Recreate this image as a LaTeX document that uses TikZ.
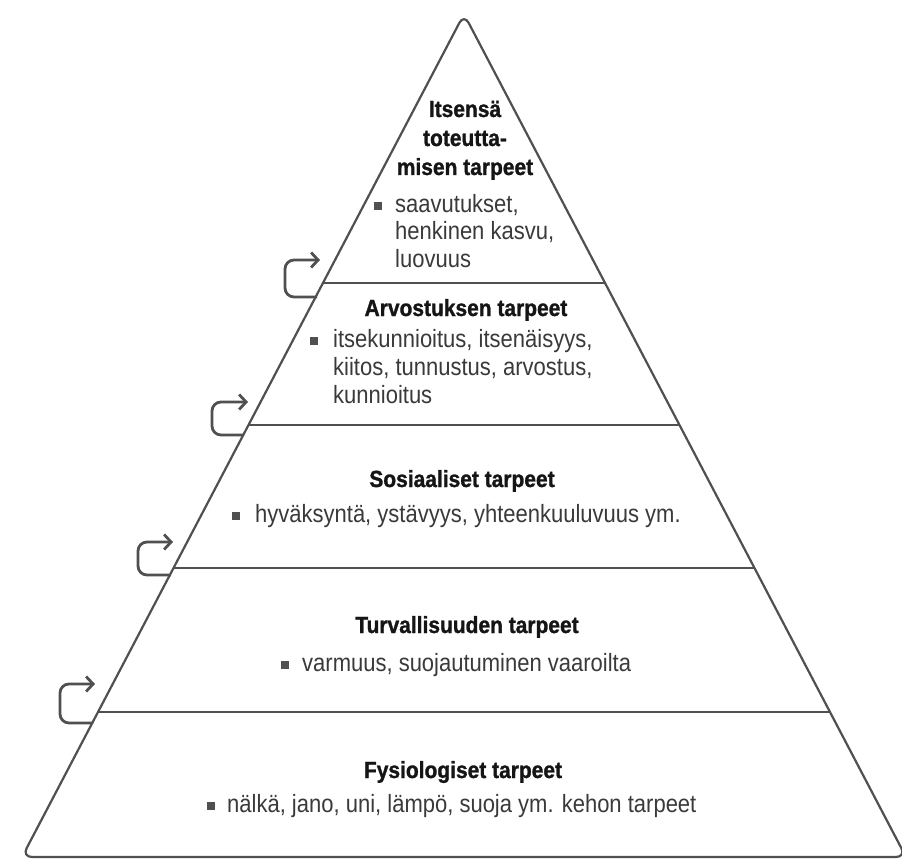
\documentclass[tikz,border=0pt]{standalone}
\usepackage{fontspec}
\setmainfont{Liberation Sans}
\newfontfamily\bodyfont[FakeStretch=0.88]{Liberation Sans}
\newfontfamily\titlefont[FakeStretch=0.9,FakeBold=1.2]{Liberation Sans Bold}
\usetikzlibrary{arrows.meta}
\definecolor{edgec}{HTML}{505050}
\definecolor{txtc}{HTML}{3A3A3A}
\definecolor{ttlc}{HTML}{151515}
\begin{document}
\begin{tikzpicture}[x=1pt,y=-1pt,
  pyr/.style={draw=edgec,line width=2.2pt},
  looparrow/.style={draw=edgec,line width=2.8pt,rounded corners=9pt,-{Straight Barb[length=7pt,width=15pt]}},
  titletext/.style={font=\titlefont\fontsize{23.3}{23}\selectfont, text=ttlc, inner sep=0pt, anchor=base},
  bodytext/.style={font=\bodyfont\fontsize{25}{25}\selectfont, text=txtc, inner sep=0pt, anchor=base west},
  bulletsq/.style={fill=edgec, minimum size=8pt, inner sep=0pt}]
\useasboundingbox (0,0) rectangle (902,861);
\clip (0,0) rectangle (902,861);
\fill[white] (0,0) rectangle (902,861);

% pyramid outline
\coordinate (apex) at (464,14);
\coordinate (bl) at (22,857);
\coordinate (br) at (906,857);
\draw[pyr, rounded corners=10pt] (bl) -- (apex) -- (br) -- cycle;

% level separators
\coordinate (l1a) at (323,283); \coordinate (l1b) at (605,283);
\coordinate (l2a) at (248,425); \coordinate (l2b) at (680,425);
\coordinate (l3a) at (173,568); \coordinate (l3b) at (755,568);
\coordinate (l4a) at (98,712);  \coordinate (l4b) at (830,712);
\draw[pyr] (l1a) -- (l1b);
\draw[pyr] (l2a) -- (l2b);
\draw[pyr] (l3a) -- (l3b);
\draw[pyr] (l4a) -- (l4b);

% loop arrows
\coordinate (a1s) at (317,297); \coordinate (a1e) at (320,260);
\coordinate (a2s) at (244,435); \coordinate (a2e) at (248,402);
\coordinate (a3s) at (171,575); \coordinate (a3e) at (173,542);
\coordinate (a4s) at (93,723);  \coordinate (a4e) at (95,684);
\draw[looparrow] (a1s) -- ++(-32,0) |- (a1e);
\draw[looparrow] (a2s) -- ++(-32,0) |- (a2e);
\draw[looparrow] (a3s) -- ++(-33,0) |- (a3e);
\draw[looparrow] (a4s) -- ++(-33,0) |- (a4e);

% level 5
\node[titletext] (t5a) at (465,117) {Itsensä};
\node[titletext] (t5b) at (465,146) {toteutta-};
\node[titletext] (t5c) at (465,175) {misen tarpeet};
\node[bulletsq] (b5) at (378,206) {};
\node[bodytext] (s5a) at (395,212) {saavutukset,};
\node[bodytext] (s5b) at (395,240) {henkinen kasvu,};
\node[bodytext] (s5c) at (395,267) {luovuus};

% level 4
\node[titletext] (t4) at (466,316) {Arvostuksen tarpeet};
\node[bulletsq] (b4) at (314,341) {};
\node[bodytext] (s4a) at (333,347) {itsekunnioitus, itsenäisyys,};
\node[bodytext] (s4b) at (333,375) {kiitos, tunnustus, arvostus,};
\node[bodytext] (s4c) at (333,403) {kunnioitus};

% level 3
\node[titletext] (t3) at (462,487) {Sosiaaliset tarpeet};
\node[bulletsq] (b3) at (236,516) {};
\node[bodytext] (s3) at (255,522) {hyväksyntä, ystävyys, yhteenkuuluvuus ym.};

% level 2
\node[titletext] (t2) at (467,633) {Turvallisuuden tarpeet};
\node[bulletsq] (b2) at (285,665) {};
\node[bodytext] (s2) at (302,671) {varmuus, suojautuminen vaaroilta};

% level 1
\node[titletext] (t1) at (463,778) {Fysiologiset tarpeet};
\node[bulletsq] (b1) at (211,806) {};
\node[bodytext] (s1) at (227,812) {nälkä, jano, uni, lämpö, suoja ym. kehon tarpeet};
\end{tikzpicture}
\end{document}
